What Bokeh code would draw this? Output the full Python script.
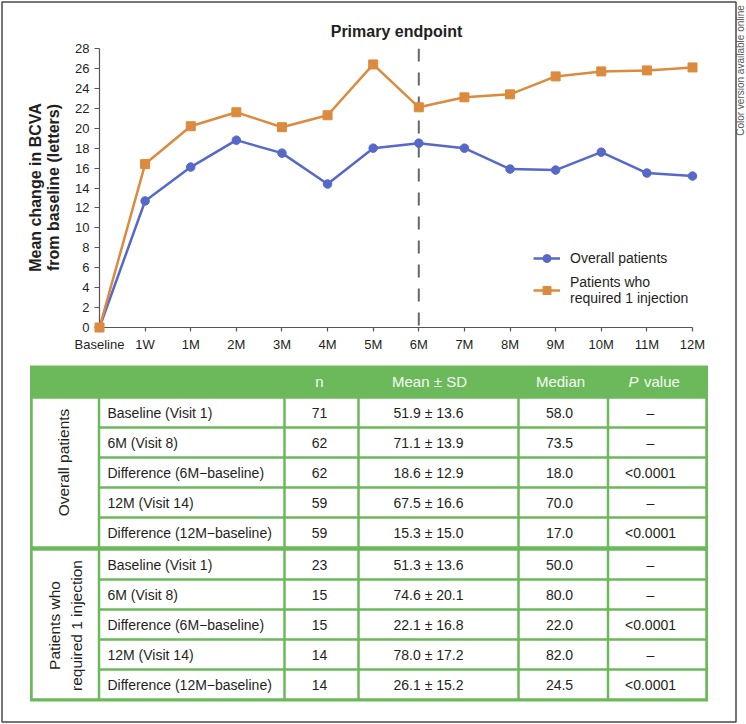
import math
from bokeh.plotting import figure
from bokeh.models import (Range1d, FixedTicker, Span, Legend, LegendItem,
                          ColumnDataSource)
from bokeh.embed import file_html
from bokeh.resources import INLINE
from bokeh.core.properties import value

# ---------------- data ----------------
timepoints = ["Baseline", "1W", "1M", "2M", "3M", "4M", "5M", "6M",
              "7M", "8M", "9M", "10M", "11M", "12M"]
overall_change = [0, 12.7, 16.1, 18.8, 17.5, 14.4, 18.0, 18.5, 18.0, 15.9, 15.8, 17.6, 15.5, 15.2]
one_injection_change = [0, 16.4, 20.2, 21.6, 20.1, 21.3, 26.4, 22.1, 23.1, 23.4, 25.2, 25.7, 25.8, 26.1]
y_ticks = list(range(0, 29, 2))
endpoint = "6M"

series_names = ["Overall patients", "Patients who\nrequired 1 injection"]
table_header = ["n", "Mean \u00b1 SD", "Median"]
row_labels = ["Baseline (Visit 1)", "6M (Visit 8)", "Difference (6M\u2212baseline)",
              "12M (Visit 14)", "Difference (12M\u2212baseline)"]
n_overall = ["71", "62", "62", "59", "59"]
mean_overall = ["51.9 \u00b1 13.6", "71.1 \u00b1 13.9", "18.6 \u00b1 12.9", "67.5 \u00b1 16.6", "15.3 \u00b1 15.0"]
median_overall = ["58.0", "73.5", "18.0", "70.0", "17.0"]
p_overall = ["\u2013", "\u2013", "<0.0001", "\u2013", "<0.0001"]
n_inj = ["23", "15", "15", "14", "14"]
mean_inj = ["51.3 \u00b1 13.6", "74.6 \u00b1 20.1", "22.1 \u00b1 16.8", "78.0 \u00b1 17.2", "26.1 \u00b1 15.2"]
median_inj = ["50.0", "80.0", "22.0", "82.0", "24.5"]
p_inj = ["\u2013", "\u2013", "<0.0001", "\u2013", "<0.0001"]

# ---------------- style / layout ----------------
FONT = "Liberation Sans"
BLUE = "#5668c8"
ORANGE = "#dc8a3e"
GREEN = "#6cb95c"
TXT = "#231f20"
FRAME = "#4a4a4a"
HEAD_TXT = "#f4fbf2"

W, H = 746, 724
FL, FR, FT, FB = 99, 692, 48, 327   # chart frame in canvas pixels

p = figure(width=W, height=H, x_range=Range1d(0, len(timepoints) - 1),
           y_range=Range1d(0, 28), toolbar_location=None, output_backend="svg",
           min_border_left=FL, min_border_right=W - FR, min_border_top=FT,
           min_border_bottom=H - FB)
# pixel-like ranges (same frame, canvas-pixel units) for texts and the table
p.extra_x_ranges = {"px": Range1d(FL, FR)}
p.extra_y_ranges = {"px": Range1d(FB, FT)}
p.grid.visible = False
p.outline_line_color = None

p.xaxis.ticker = FixedTicker(ticks=list(range(len(timepoints))))
p.xaxis.major_label_overrides = {i: t for i, t in enumerate(timepoints)}
p.yaxis.ticker = FixedTicker(ticks=y_ticks)
p.axis.minor_tick_line_color = None
p.axis.major_tick_in = 0
p.xaxis.major_tick_out = 4
p.yaxis.major_tick_out = 5
p.axis.axis_line_color = "#555555"
p.axis.axis_line_width = 1.2
p.axis.major_tick_line_color = "#555555"
p.axis.major_tick_line_width = 1.2
p.axis.major_label_text_font = FONT
p.axis.major_label_text_font_size = "13px"
p.axis.major_label_text_color = TXT
p.xaxis.major_label_standoff = 5
p.yaxis.major_label_standoff = 5

xs = list(range(len(timepoints)))
src = ColumnDataSource(dict(x=xs, overall=overall_change, inj=one_injection_change))
lb = p.line("x", "overall", source=src, line_color=BLUE, line_width=2.5, level="overlay")
sb = p.scatter("x", "overall", source=src, marker="circle", size=8.5,
               fill_color=BLUE, line_color=BLUE, level="overlay")
lo = p.line("x", "inj", source=src, line_color=ORANGE, line_width=2.5, level="overlay")
so = p.scatter("x", "inj", source=src, marker="square", size=9,
               fill_color=ORANGE, line_color=ORANGE, level="overlay")

p.add_layout(Span(location=timepoints.index(endpoint), dimension="height",
                  line_color="#666666", line_width=2, line_dash="13 11"))

legend = Legend(items=[LegendItem(label=series_names[0], renderers=[lb, sb]),
                       LegendItem(label=series_names[1], renderers=[lo, so])],
                location=(434, 21), glyph_width=27, glyph_height=20, label_height=20,
                label_standoff=10, spacing=6, padding=0, margin=0,
                border_line_color=None, background_fill_alpha=0,
                label_text_font=FONT, label_text_font_size="14px",
                label_text_color=TXT, label_text_line_height=1.15)
p.add_layout(legend)

PX = dict(x_range_name="px", y_range_name="px", level="overlay")

# chart texts (title, y-axis title, side note)
p.text(x=[396], y=[31], text=["Primary endpoint"], text_align="center",
       text_baseline="middle", text_font=value(FONT), text_font_size="16px",
       text_font_style="bold", text_color=TXT, **PX)
p.text(x=[35, 53], y=[187, 187], text=["Mean change in BCVA", "from baseline (letters)"],
       angle=math.pi / 2, text_align="center", text_baseline="middle",
       text_font=value(FONT), text_font_size="16px", text_font_style="bold",
       text_color=TXT, **PX)
p.text(x=[739.5], y=[70], text=["Color version available online"], angle=math.pi / 2,
       text_align="center", text_baseline="middle", text_font=value(FONT),
       text_font_size="10px", text_color="#555555", **PX)

# outer frame
p.quad(left=1.5, right=735.5, top=1.5, bottom=721.5, fill_alpha=0, line_color=FRAME,
       line_width=1.5, **PX)

# ---------------- table ----------------
col_edges = [31, 98.5, 284, 358, 518, 607.5, 706]
text_x = [107, 319, 428, 559, 650]
HEAD_TOP, HEAD_BOT = 365, 397
group_tops = [397, 549]
ROW_H = 30
GAP = 1.25

p.quad(left=29.5, right=707.5, top=HEAD_TOP, bottom=group_tops[1] + 5 * ROW_H + 2,
       fill_color=GREEN, line_color=None, **PX)

groups = [
    (n_overall, mean_overall, median_overall, p_overall),
    (n_inj, mean_inj, median_inj, p_inj),
]

cl, cr, ct, cb = [], [], [], []
tx, ty, tt, ta = [], [], [], []
for g, (ns, means, meds, ps) in enumerate(groups):
    gtop = group_tops[g]
    cl.append(col_edges[0] + GAP); cr.append(col_edges[1] - GAP)
    ct.append(gtop + GAP); cb.append(gtop + len(row_labels) * ROW_H - GAP)
    for r, lab in enumerate(row_labels):
        top = gtop + r * ROW_H
        for c in range(1, 6):
            cl.append(col_edges[c] + GAP); cr.append(col_edges[c + 1] - GAP)
            ct.append(top + GAP); cb.append(top + ROW_H - GAP)
        vals = [lab, ns[r], means[r], meds[r], ps[r]]
        for c, v in enumerate(vals):
            tx.append(text_x[c]); ty.append(top + ROW_H / 2); tt.append(v)
            ta.append("left" if c == 0 else "center")

p.quad(left=cl, right=cr, top=ct, bottom=cb, fill_color="white", line_color=None, **PX)
p.text(x=tx, y=ty, text=tt, text_align=ta, text_baseline="middle",
       text_font=value(FONT), text_font_size="14px", text_color=TXT, **PX)

# group labels (rotated)
p.text(x=[63, 65], y=[462, 625], text=series_names, angle=math.pi / 2,
       text_align="center", text_baseline="middle", text_font=value(FONT),
       text_font_size="15.5px", text_color=TXT, text_line_height=1.3, **PX)

# header
head_y = (HEAD_TOP + HEAD_BOT) / 2
p.text(x=[319, 429, 560], y=[head_y] * 3, text=table_header, text_align="center",
       text_baseline="middle", text_font=value(FONT), text_font_size="15px",
       text_color=HEAD_TXT, **PX)
p.text(x=[628], y=[head_y], text=["P"], text_align="left", text_baseline="middle",
       text_font=value(FONT), text_font_size="15px", text_font_style="italic",
       text_color=HEAD_TXT, **PX)
p.text(x=[643.5], y=[head_y], text=["value"], text_align="left", text_baseline="middle",
       text_font=value(FONT), text_font_size="15px", text_color=HEAD_TXT, **PX)

open("out.html", "w").write(file_html(p, INLINE))
